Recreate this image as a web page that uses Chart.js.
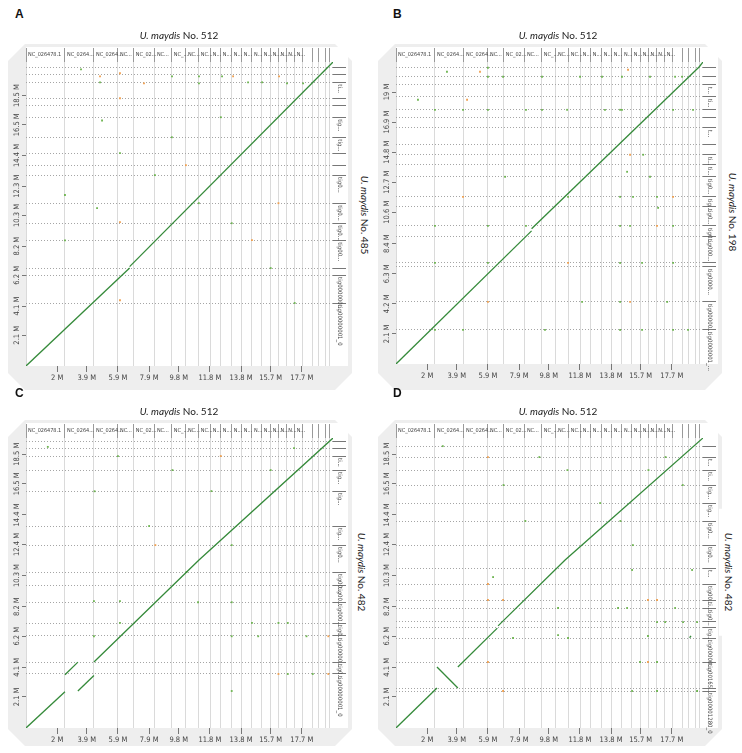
<!DOCTYPE html>
<html>
<head>
<meta charset="utf-8">
<script src="https://cdn.jsdelivr.net/npm/chart.js@4.4.1/dist/chart.umd.min.js"></script>
<style>
  body { margin: 0; width: 742px; height: 753px; position: relative; overflow: hidden; background: #fff; font-family: 'Liberation Sans', Arial, sans-serif; }
  .panel { position: absolute; background: #eeeeee;
    clip-path: polygon(17px 0, calc(100% - 17px) 0, 100% 17px, 100% calc(100% - 17px), calc(100% - 17px) 100%, 17px 100%, 0 calc(100% - 17px), 0 17px); }
  .letter { position: absolute; font-weight: bold; font-size: 12px; line-height: 12px; color: #111; }
  .title { position: absolute; font-family: Lato, 'Liberation Sans', sans-serif; font-size: 10px; line-height: 12px; color: #222; transform: translateX(-50%); white-space: nowrap; }
  .side { position: absolute; font-family: Lato, 'Liberation Sans', sans-serif; font-size: 10px; line-height: 12px; color: #222; white-space: nowrap;
    background: #fff; padding: 4px 24px; transform: translate(-50%, -50%) rotate(90deg); }
  canvas { position: absolute; }
</style>
</head>
<body>
<div class="panel" style="left:8px;top:44px;width:344px;height:346px"></div>
<div class="panel" style="left:378px;top:44px;width:344px;height:346px"></div>
<div class="panel" style="left:8px;top:420px;width:344px;height:326px"></div>
<div class="panel" style="left:378px;top:420px;width:344px;height:326px"></div>

<canvas id="chartA" width="362" height="350" style="left:0;top:40px"></canvas>
<canvas id="chartB" width="362" height="350" style="left:370px;top:40px"></canvas>
<canvas id="chartC" width="362" height="337" style="left:0;top:416px"></canvas>
<canvas id="chartD" width="362" height="337" style="left:370px;top:416px"></canvas>

<div class="letter" style="left:15px;top:8px">A</div>
<div class="letter" style="left:393px;top:8px">B</div>
<div class="letter" style="left:15px;top:387px">C</div>
<div class="letter" style="left:393px;top:387px">D</div>

<div class="title" style="left:179px;top:29px"><i>U. maydis</i> No. 512</div>
<div class="title" style="left:558px;top:29px"><i>U. maydis</i> No. 512</div>
<div class="title" style="left:179px;top:405px"><i>U. maydis</i> No. 512</div>
<div class="title" style="left:558px;top:405px"><i>U. maydis</i> No. 512</div>

<div class="side" style="left:365px;top:215px"><i>U. maydis</i> No. 485</div>
<div class="side" style="left:733px;top:212px"><i>U. maydis</i> No. 198</div>
<div class="side" style="left:362px;top:572px"><i>U. maydis</i> No. 482</div>
<div class="side" style="left:729px;top:572px"><i>U. maydis</i> No. 482</div>

<script>
// reference genome (No. 512) on x, shared by all four plots, in Mb
const xLen = 19.7;
const xTickVals = [2, 3.9, 5.9, 7.9, 9.8, 11.8, 13.8, 15.7, 17.7];
const xContigStarts = [0, 2.5, 4.36, 5.9, 6.92, 8.27, 9.36, 10.26, 11.09, 11.86, 12.5, 13.2, 13.85, 14.5, 15.13, 15.7, 16.2, 16.7, 17.24, 17.76, 18.4, 18.8, 19.23, 19.5];
const xContigNames = ['NC_026478.1', 'NC_0264...', 'NC_0264...', 'NC...', 'NC_02...', 'NC...', 'NC_...', 'NC...', 'NC...',
  'N...', 'N...', 'N...', 'N...', 'N...', 'N...', 'N...', 'N...', 'N...', 'N...', '', '', '', '', ''];

// A: No. 485
const yLenA = 20.8;
const yTicksA = [2.1, 4.1, 6.2, 8.2, 10.3, 12.3, 14.4, 16.5, 18.5];
const yContigStartsA = [0, 4.31, 6.22, 6.7, 8.61, 9.77, 11.14, 13.06, 13.74, 14.56, 15.65, 17.02, 17.84, 18.32, 19.41, 19.96, 20.44];
const yContigNamesA = ['tig00000001_0', 'tig000000...', '', 'tig00...', 'tig0...', 'tig0...', 'tig0...', '', '', 'tig...', 'tig...', '', '', 'ti...', '', '', ''];
const alignA = [[[0, 0], [6.65, 6.7]], [[6.65, 6.8], [19.7, 20.8]]];
const fwdDotsA = [[3.53, 20.3], [4.75, 19.41], [9.37, 19.82], [11.1, 19.82], [11.1, 19.34], [12.58, 19.82], [14.25, 19.41], [15.15, 19.41],
  [16.75, 19.34], [17.78, 19.34], [4.88, 16.8], [2.5, 11.7], [2.5, 8.6], [4.56, 10.8], [6.03, 14.56], [8.27, 13.06], [11.09, 11.14],
  [13.2, 9.77], [15.7, 6.7], [17.24, 4.31], [12.5, 17.02], [9.36, 15.65]];
const revDotsA = [[4.75, 19.82], [7.57, 19.34], [13.29, 19.82], [16.24, 19.82], [6.03, 20.03], [6.03, 18.32], [6.03, 9.84], [6.03, 4.5],
  [10.26, 13.74], [14.5, 8.61], [16.2, 11.14]];

// B: No. 198
const yLenB = 21.1;
const yTicksB = [2.1, 4.2, 6.3, 8.4, 10.6, 12.7, 14.8, 16.9, 19];
const yContigStartsB = [0, 2.38, 4.34, 6.78, 7.06, 8.88, 9.65, 10.98, 11.68, 13.08, 13.92, 14.62, 15.31, 16.5, 17.2, 17.76, 18.67, 19.51, 20.07, 20.7];
const yContigNamesB = ['tig0000001_...', 'tig00000...', 'tig0000...', '', 'tig000...', 'tig0...', 'tig0...', 'tig...', 'tig0...', 'ti...', 'ti...', '', 't...', '', '', 'ti...', 't...', '', '', ''];
const alignB = [[[0, 0], [8.7, 9.3]], [[8.7, 9.45], [19.45, 20.75]], [[19.45, 20.75], [19.7, 21.1]]];
const fwdDotsB = [[3.27, 20.42], [5.9, 20.7], [5.9, 20.07], [6.87, 20.07], [9.37, 20.07], [11.81, 20.07], [13.22, 20.07], [14.5, 20.07],
  [16.3, 20.07], [17.91, 20.07], [18.36, 20.07], [1.41, 18.46], [9.37, 17.76], [10.98, 17.76], [14.5, 17.76], [17.78, 17.76],
  [19.06, 17.76], [13.41, 17.76], [14.38, 17.76], [15.86, 14.62], [14.83, 13.43], [16.3, 13.08], [14.38, 11.68], [15.21, 11.68],
  [16.75, 11.68], [16.82, 10.91], [14.38, 9.65], [15.02, 9.65], [17.78, 9.65], [14.38, 7.06], [15.79, 7.06], [17.78, 7.06],
  [14.38, 4.34], [17.4, 4.34], [14.38, 2.38], [15.79, 2.38], [17.78, 2.38], [18.74, 2.38], [2.5, 17.76], [2.5, 9.65], [2.5, 7.06],
  [2.5, 2.38], [4.3, 17.76], [4.3, 2.38], [5.9, 17.76], [5.9, 9.65], [5.9, 7.06], [7.0, 13.08], [8.34, 17.76], [8.34, 9.65],
  [9.56, 2.38], [11.04, 11.68], [11.94, 4.34]];
const revDotsB = [[5.39, 20.42], [14.89, 20.56], [4.56, 18.46], [15.02, 14.62], [17.78, 11.68], [16.75, 9.65], [15.02, 4.34],
  [4.3, 11.68], [5.9, 4.34], [11.04, 7.06]];

// C: No. 482 (translocation)
const yLenC = 19.6;
const yTicksC = [2.1, 4.1, 6.2, 8.2, 10.3, 12.4, 14.4, 16.5, 18.5];
const yContigStartsC = [0, 3.65, 4.46, 6.22, 7.09, 8.51, 9.66, 10.54, 12.36, 13.65, 16.01, 17.43, 18.38, 18.92, 19.39];
const yContigNamesC = ['tig00000001_0', 'tig0...', 'tig00000...', 'tig0...', 'tig000...', 'tig00...', 'tig00...', 'tig0...', 'tig...', 'tig...', 'tig...', 'ti...', '', '', ''];
const alignC = [[[0, 0], [2.5, 2.45]], [[2.5, 3.6], [3.33, 4.45]], [[3.33, 2.5], [4.36, 3.55]], [[4.36, 4.46], [11.1, 11.35], [19.7, 19.6]]];
const fwdDotsC = [[4.36, 8.58], [6.03, 8.58], [11.04, 8.5], [13.2, 8.5], [13.2, 2.5], [14.5, 7.1], [14.9, 6.2], [16.8, 3.65], [18.0, 6.2],
  [18.4, 3.65], [16.8, 7.1], [16.2, 7.1], [13.2, 6.2], [6.03, 7.1], [4.36, 6.2], [1.4, 19.0], [5.9, 18.38], [9.4, 17.43], [11.9, 16.01],
  [7.9, 13.65], [13.2, 12.36], [15.7, 17.43], [17.2, 18.92], [10.3, 10.54], [4.4, 16.0]];
const revDotsC = [[16.2, 3.65], [19.4, 3.65], [19.4, 6.2], [8.3, 12.36], [12.5, 18.38]];

// D: No. 482 (inversion)
const yLenD = 19.6;
const yTicksD = [2.1, 4.1, 6.2, 8.2, 10.3, 12.4, 14.4, 16.5, 18.5];
const yContigStartsD = [0, 2.5, 2.7, 4.46, 6.08, 6.82, 7.23, 8.11, 8.65, 9.73, 10.81, 12.36, 13.99, 15.2, 16.42, 17.43, 18.31, 19.05];
const yContigNamesD = ['tig00001280_0', '', 'tig00165...', 'tig00000...', 'tig...', '', 'tig0...', 'ti...', 'tig00...', 't...', 'tig0...', 'tig0...', 'tig...', 'tig...', 'ti...', 't...', '', ''];
const alignD = [[[0, 0], [2.63, 2.7]], [[2.63, 4.12], [3.97, 2.7]], [[3.97, 4.12], [6.5, 6.75]], [[6.55, 6.9], [10.85, 11.35], [19.7, 19.6]],
  [[18.84, 6.1], [18.93, 6.22]]];
const fwdDotsD = [[6.23, 10.2], [10.4, 8.11], [14.25, 8.11], [14.83, 8.11], [17.91, 8.11], [15.15, 10.68], [19.0, 10.68], [7.51, 6.08],
  [10.4, 6.28], [11.04, 6.08], [16.17, 6.22], [15.66, 4.46], [16.75, 4.46], [15.15, 2.5], [16.75, 2.5], [19.32, 2.5], [16.75, 7.16],
  [18.42, 7.16], [19.32, 7.16], [17.27, 7.16], [3.0, 19.05], [9.2, 18.31], [11.0, 17.43], [13.1, 15.2], [14.4, 13.99], [15.2, 12.36],
  [6.9, 16.42], [8.3, 13.99], [16.2, 17.43], [17.3, 18.31], [18.4, 16.42]];
const revDotsD = [[5.9, 9.73], [5.9, 8.65], [6.87, 8.65], [16.17, 8.65], [16.75, 8.65], [5.9, 4.46], [16.17, 4.46], [6.87, 2.5], [5.9, 18.31]];

const narrow = '"Liberation Sans Narrow", "DejaVu Sans Condensed", sans-serif';

// white plot field, rotated y tick labels and the contig names on the right
const dotLabels = {
  id: 'dotLabels',
  beforeDraw(chart) {
    const { ctx, chartArea: a } = chart;
    ctx.save();
    ctx.fillStyle = '#fff';
    ctx.fillRect(a.left, a.top - 15, a.right - a.left + 15, a.bottom - a.top + 15);
    ctx.restore();
  },
  afterDraw(chart, args, opts) {
    const { ctx, chartArea: a, scales } = chart;
    ctx.save();
    ctx.fillStyle = '#444';
    ctx.font = '7.5px ' + narrow;
    ctx.textAlign = 'center';
    ctx.textBaseline = 'middle';
    scales.y.ticks.forEach(t => {
      ctx.save();
      ctx.translate(a.left - 9, scales.y.getPixelForValue(t.value));
      ctx.rotate(-Math.PI / 2);
      ctx.fillText(t.value + ' M', 0, 0);
      ctx.restore();
    });
    ctx.font = '6px ' + narrow;
    ctx.textAlign = 'left';
    opts.starts.forEach((s, i) => {
      const name = opts.names[i];
      if (!name) return;
      const hi = i + 1 < opts.starts.length ? opts.starts[i + 1] : scales.yRight.max;
      ctx.save();
      ctx.translate(a.right + 7, scales.yRight.getPixelForValue(hi) + 2);
      ctx.rotate(Math.PI / 2);
      ctx.fillText(name, 0, 0);
      ctx.restore();
    });
    ctx.restore();
  }
};

function dotPlot(id, yLen, yTicks, yStarts, yNames, segments, fwdDots, revDots, sizes) {
  const datasets = segments.map(seg => ({
    data: seg.map(p => ({ x: p[0], y: p[1] })),
    showLine: true,
    borderColor: '#358a3a',
    borderWidth: 1.3,
    pointRadius: 0
  }));
  datasets.push({
    data: fwdDots.map(p => ({ x: p[0], y: p[1] })),
    pointStyle: 'rect', pointRadius: 1.3, borderWidth: 0, backgroundColor: '#6fb552'
  });
  datasets.push({
    data: revDots.map(p => ({ x: p[0], y: p[1] })),
    pointStyle: 'rect', pointRadius: 1.3, borderWidth: 0, backgroundColor: '#f0a050'
  });

  return new Chart(document.getElementById(id), {
    type: 'scatter',
    data: { datasets },
    plugins: [dotLabels],
    options: {
      responsive: false,
      animation: false,
      events: [],
      layout: { padding: 0 },
      plugins: {
        legend: { display: false },
        tooltip: { enabled: false },
        dotLabels: { starts: yStarts, names: yNames }
      },
      scales: {
        x: {
          type: 'linear', position: 'bottom', min: 0, max: xLen,
          afterBuildTicks: s => { s.ticks = xTickVals.map(v => ({ value: v })); },
          afterFit: s => { s.height = sizes.bottom; },
          grid: { drawOnChartArea: false, tickLength: 6, color: '#777' },
          border: { display: false },
          ticks: { autoSkip: false, minRotation: 0, maxRotation: 0, padding: 2, color: '#444',
            font: { family: narrow, size: 7.5 }, callback: v => v + ' M' }
        },
        xTop: {
          type: 'linear', position: 'top', min: 0, max: xLen,
          afterBuildTicks: s => { s.ticks = xContigStarts.map(v => ({ value: v })); },
          afterFit: s => { s.height = sizes.top; },
          grid: { color: '#dadada', tickLength: 14, tickColor: '#9a9a9a' },
          border: { display: false },
          ticks: { autoSkip: false, minRotation: 0, maxRotation: 0, align: 'start', labelOffset: 2, padding: -10,
            color: '#444', font: { family: narrow, size: 5.5 }, callback: (v, i) => xContigNames[i] }
        },
        y: {
          type: 'linear', position: 'left', min: 0, max: yLen,
          afterBuildTicks: s => { s.ticks = yTicks.map(v => ({ value: v })); },
          afterFit: s => { s.width = sizes.left; },
          grid: { drawOnChartArea: false, tickLength: 4, color: '#777' },
          border: { display: false },
          ticks: { display: false }
        },
        yRight: {
          type: 'linear', position: 'right', min: 0, max: yLen,
          afterBuildTicks: s => { s.ticks = yStarts.filter(v => v > 0).map(v => ({ value: v })); },
          afterFit: s => { s.width = sizes.right; },
          grid: { color: '#a5a5a5', tickLength: 13, tickColor: '#777' },
          border: { display: false, dash: [1, 2] },
          ticks: { display: false }
        }
      }
    }
  });
}

dotPlot('chartA', yLenA, yTicksA, yContigStartsA, yContigNamesA, alignA, fwdDotsA, revDotsA, { left: 26, right: 29, top: 22, bottom: 24 });
dotPlot('chartB', yLenB, yTicksB, yContigStartsB, yContigNamesB, alignB, fwdDotsB, revDotsB, { left: 26, right: 29, top: 22, bottom: 26 });
dotPlot('chartC', yLenC, yTicksC, yContigStartsC, yContigNamesC, alignC, fwdDotsC, revDotsC, { left: 26, right: 29, top: 22, bottom: 25 });
dotPlot('chartD', yLenD, yTicksD, yContigStartsD, yContigNamesD, alignD, fwdDotsD, revDotsD, { left: 26, right: 29, top: 22, bottom: 25 });
</script>
</body>
</html>
